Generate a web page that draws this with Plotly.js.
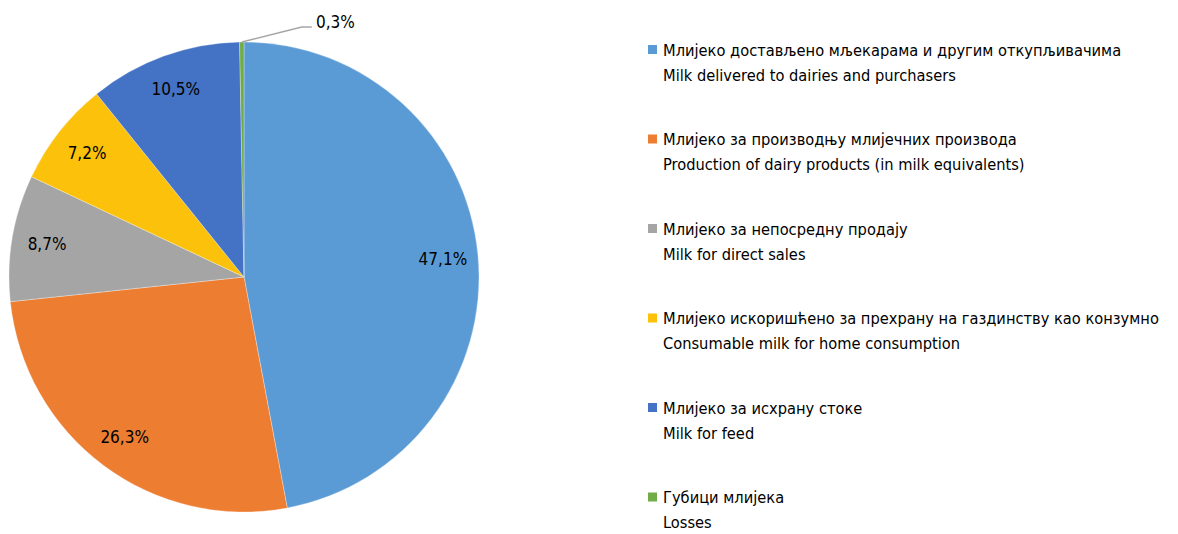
<!DOCTYPE html>
<html>
<head>
<meta charset="utf-8">
<script src="https://cdn.plot.ly/plotly-3.0.1.min.js"></script>
<style>html,body{margin:0;padding:0;background:#fff;}#chart{width:1178px;height:534px;}</style>
</head>
<body>
<div id="chart"></div>
<script>
const labelsSr = [
  "Млијеко достављено мљекарама и другим откупљивачима",
  "Млијеко за производњу млијечних производа",
  "Млијеко за непосредну продају",
  "Млијеко искоришћено за прехрану на газдинству као конзумно",
  "Млијеко за исхрану стоке",
  "Губици млијека"
];
const labelsEn = [
  "Milk delivered to dairies and purchasers",
  "Production of dairy products (in milk equivalents)",
  "Milk for direct sales",
  "Consumable milk for home consumption",
  "Milk for feed",
  "Losses"
];
const shares = [47.1, 26.3, 8.7, 7.2, 10.5, 0.3];
const colors = ["#5b9bd5", "#ed7d31", "#a5a5a5", "#fbc10b", "#4472c4", "#70ad47"];
const insideLabel = [true, true, true, true, true, false];

const FONT = "'Liberation Sans Narrow', 'DejaVu Sans Condensed', Arial, sans-serif";
const W = 1178, H = 534;
const pieDomain = {x: [9 / W, 479 / W], y: [(H - 512) / H, (H - 42) / H]};

// main pie (colours)
const pie = {
  type: "pie",
  labels: labelsSr,
  values: shares,
  sort: false,
  direction: "clockwise",
  rotation: 0,
  marker: {colors: colors, line: {color: "rgba(255,255,255,0.6)", width: 0.5}},
  textinfo: "none",
  hoverinfo: "label+value",
  showlegend: false,
  domain: pieDomain
};

// transparent ring on top, only to carry the inside labels further out
const labelRing = {
  type: "pie",
  labels: labelsSr,
  values: shares,
  sort: false,
  direction: "clockwise",
  rotation: 0,
  hole: 0.7,
  marker: {colors: shares.map(() => "rgba(0,0,0,0)"), line: {width: 0}},
  texttemplate: shares.map((v, i) => insideLabel[i] ? "%{value:.1f}%" : ""),
  textposition: insideLabel.map(b => b ? "inside" : "none"),
  insidetextorientation: "horizontal",
  textfont: {family: FONT, size: 17, color: "#000"},
  hoverinfo: "skip",
  showlegend: false,
  domain: pieDomain
};

const annotations = [];
const shapes = [];

// small-slice label with leader line
(function () {
  const total = shares.reduce((a, b) => a + b, 0);
  const idx = shares.length - 1;
  const before = shares.slice(0, idx).reduce((a, b) => a + b, 0);
  const ang = (before + shares[idx] / 2) / total * 2 * Math.PI;
  const cx = (pieDomain.x[0] + pieDomain.x[1]) / 2 * W;
  const cy = H - (pieDomain.y[0] + pieDomain.y[1]) / 2 * H;
  const r = (pieDomain.x[1] - pieDomain.x[0]) * W / 2;
  const ex = cx + r * Math.sin(ang), ey = cy - r * Math.cos(ang);
  const kx = ex + 60, ky = ey - 15, tx = kx + 10;
  shapes.push({
    type: "path", xref: "paper", yref: "paper",
    path: `M ${ex / W} ${1 - ey / H} L ${kx / W} ${1 - ky / H} L ${tx / W} ${1 - ky / H}`,
    line: {color: "#a6a6a6", width: 1.5}
  });
  annotations.push({
    xref: "paper", yref: "paper", x: (tx + 2) / W, y: 1 - (ky - 5) / H,
    xanchor: "left", yanchor: "middle", showarrow: false,
    text: shares[idx].toFixed(1).replace(".", ",") + "%",
    font: {family: FONT, size: 17, color: "#000"}
  });
})();

const legX = 661, legY0 = 50, legStep = 89.5, lineGap = 25, legFont = 16.3;
labelsSr.forEach((sr, i) => {
  const y = legY0 + i * legStep;
  annotations.push({
    xref: "paper", yref: "paper", x: legX / W, y: 1 - y / H,
    xanchor: "left", yanchor: "middle", showarrow: false,
    text: sr, font: {family: FONT, size: legFont, color: "#000"}
  });
  annotations.push({
    xref: "paper", yref: "paper", x: legX / W, y: 1 - (y + lineGap) / H,
    xanchor: "left", yanchor: "middle", showarrow: false,
    text: labelsEn[i], font: {family: FONT, size: legFont, color: "#000"}
  });
  shapes.push({
    type: "rect", xref: "paper", yref: "paper",
    x0: 648 / W, x1: 657 / W, y0: 1 - (y + 4) / H, y1: 1 - (y - 5) / H,
    fillcolor: colors[i], line: {width: 0}
  });
});

const layout = {
  width: W, height: H,
  margin: {l: 0, r: 0, t: 0, b: 0},
  paper_bgcolor: "#fff",
  separators: ", ",
  font: {family: FONT, size: 17, color: "#000"},
  annotations: annotations,
  shapes: shapes
};

Plotly.newPlot("chart", [pie, labelRing], layout, {displayModeBar: false, staticPlot: true});
</script>
</body>
</html>
